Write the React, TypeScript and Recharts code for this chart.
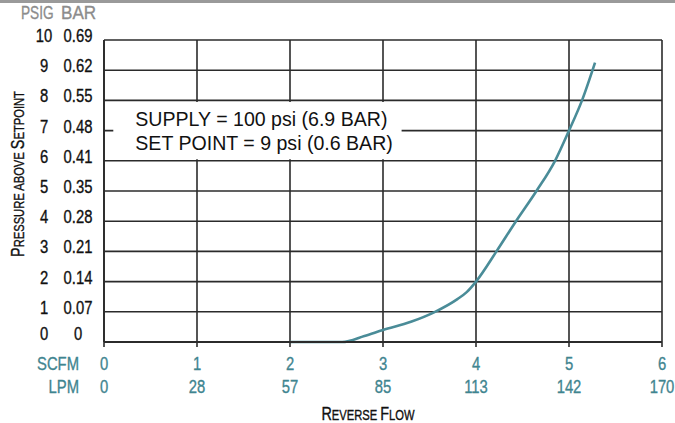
import { LineChart, Line, XAxis, YAxis, CartesianGrid, ReferenceArea, Customized } from 'recharts';

// reverse flow curve
const flowScfm = [2, 2.56, 2.8, 3, 3.3, 3.56, 3.8, 3.9, 4, 4.22, 4.43, 4.65, 4.85, 5, 5.14, 5.28];
const pressurePsig = [0, 0, 0.2, 0.4, 0.67, 1.0, 1.42, 1.65, 2, 3, 4, 5, 6, 7, 8, 9.25];

const scfmTicks = [0, 1, 2, 3, 4, 5, 6];
const lpmLabels = ['0', '28', '57', '85', '113', '142', '170'];
const psigTicks = [0, 1, 2, 3, 4, 5, 6, 7, 8, 9, 10];
const barLabels = ['0', '0.07', '0.14', '0.21', '0.28', '0.35', '0.41', '0.48', '0.55', '0.62', '0.69'];

const data = flowScfm.map((x, i) => ({ x, y: pressurePsig[i] }));

const FONT = "'Liberation Sans', Arial, sans-serif";
const TEAL = '#3f8590';
const LINE = '#4a8c98';
const GRID = '#2b2b2b';

// condensed look: squeeze a regular sans horizontally
function NText(props: any) {
  const { x, y, anchor = 'start', size = 19, fill = '#111', sx = 0.78, rotate = 0, bold = 0.35, children } = props;
  const rot = rotate ? ` rotate(${rotate})` : '';
  return (
    <text
      transform={`translate(${x},${y})${rot} scale(${sx},1)`}
      textAnchor={anchor}
      fontSize={size}
      fill={fill}
      stroke={bold ? fill : 'none'}
      strokeWidth={bold}
      fontFamily={FONT}
    >
      {children}
    </text>
  );
}

function YTick(props: any) {
  const { y, payload, index } = props;
  const by = payload.value === 0 ? y - 2 : y + 2;
  return (
    <g>
      <NText x={44} y={by} anchor="middle">{payload.value}</NText>
      <NText x={78} y={by} anchor="middle">{barLabels[index]}</NText>
    </g>
  );
}

function XTick(props: any) {
  const { x, payload, index } = props;
  return (
    <g>
      <NText x={x} y={370} anchor="middle" fill={TEAL}>{payload.value}</NText>
      <NText x={x} y={393} anchor="middle" fill={TEAL}>{lpmLabels[index]}</NText>
    </g>
  );
}

function NoteLabel(props: any) {
  const { viewBox } = props;
  const x = viewBox.x + 22;
  return (
    <g>
      <NText x={x} y={viewBox.y + 24} size={20.5} sx={0.955} bold={0}>SUPPLY = 100 psi (6.9 BAR)</NText>
      <NText x={x} y={viewBox.y + 48} size={20.5} sx={0.955} bold={0}>SET POINT = 9 psi (0.6 BAR)</NText>
    </g>
  );
}

function Titles() {
  return (
    <g>
      <rect x={0} y={0} width={675} height={3} fill="#9a9a9a" />
      <NText x={21} y={19} fill="#8c8c8c" sx={0.72}>PSIG</NText>
      <NText x={61} y={19} fill="#8c8c8c" sx={0.9}>BAR</NText>
      <NText x={79} y={370} anchor="end" fill={TEAL}>SCFM</NText>
      <NText x={79} y={393} anchor="end" fill={TEAL}>LPM</NText>
      <NText x={368} y={420} anchor="middle" sx={0.8}>
        <tspan fontSize={18}>R</tspan>
        <tspan fontSize={14}>EVERSE </tspan>
        <tspan fontSize={18}>F</tspan>
        <tspan fontSize={14}>LOW</tspan>
      </NText>
      <NText x={24} y={174} anchor="middle" rotate={-90} sx={0.8}>
        <tspan fontSize={18}>P</tspan>
        <tspan fontSize={14}>RESSURE ABOVE </tspan>
        <tspan fontSize={18}>S</tspan>
        <tspan fontSize={14}>ETPOINT</tspan>
      </NText>
    </g>
  );
}

export default function App() {
  return (
    <div style={{ position: 'absolute', left: 0, top: 0, width: 675, height: 423, background: '#fff' }}>
      <LineChart width={675} height={423} data={data} margin={{ top: 40, right: 13, left: 0, bottom: 0 }}>
        <CartesianGrid stroke={GRID} strokeWidth={1.6} />
        <XAxis
          dataKey="x"
          type="number"
          domain={[0, 6]}
          ticks={scfmTicks}
          height={81}
          axisLine={{ stroke: GRID, strokeWidth: 1.8 }}
          tickLine={{ stroke: GRID, strokeWidth: 1.6 }}
          tickSize={5}
          tick={<XTick />}
          interval={0}
        />
        <YAxis
          type="number"
          domain={[0, 10]}
          ticks={psigTicks}
          width={104}
          axisLine={{ stroke: GRID, strokeWidth: 1.8 }}
          tickLine={false}
          tick={<YTick />}
          interval={0}
        />
        <ReferenceArea
          x1={0.1}
          x2={3.2}
          y1={6.05}
          y2={7.95}
          fill="#ffffff"
          fillOpacity={1}
          stroke="none"
          label={<NoteLabel />}
        />
        <Line
          dataKey="y"
          type="monotone"
          stroke={LINE}
          strokeWidth={2.6}
          dot={false}
          isAnimationActive={false}
        />
        <Customized component={<Titles />} />
      </LineChart>
    </div>
  );
}
